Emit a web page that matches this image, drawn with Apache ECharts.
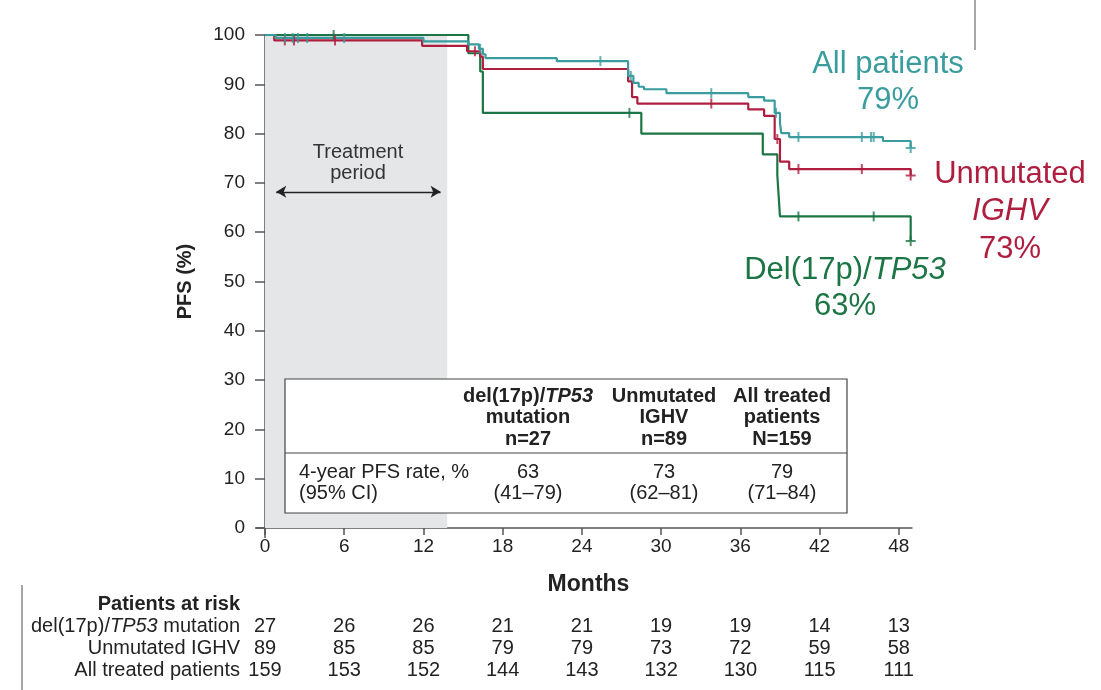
<!DOCTYPE html>
<html>
<head>
<meta charset="utf-8">
<script src="https://cdn.jsdelivr.net/npm/echarts@6/dist/echarts.min.js"></script>
<style>
  html, body { margin: 0; padding: 0; background: #fff; }
  #chart { width: 1101px; height: 690px; }
</style>
</head>
<body>
<div id="chart"></div>
<script>
// Kaplan-Meier step points: [month, PFS %]
const del17pSteps = [[0,100],[15.4,96.3],[16.3,92.6],[16.5,84.2],[28.5,80.0],[37.7,75.8],[38.8,71.6],[38.9,67.4],[39.0,63.2],[48.9,58.2]];
const ighvSteps = [[0,100],[0.7,98.9],[11.9,97.8],[15.3,96.7],[16.3,95.6],[16.5,93.1],[27.5,90.6],[27.8,87.4],[28.2,86.1],[36.6,84.9],[37.8,83.6],[38.6,78.9],[39.0,74.3],[39.7,72.8],[48.9,71.5]];
const allSteps = [[0,100],[0.8,99.4],[12.0,98.7],[15.4,98.1],[16.2,97.2],[16.5,96.1],[16.7,95.3],[22.1,94.7],[27.5,91.7],[27.9,90.3],[28.3,89.5],[28.7,89.0],[30.4,88.2],[36.6,87.4],[37.8,86.7],[38.6,84.2],[39.0,82.2],[39.1,80.1],[39.7,79.3],[46.8,78.5],[48.9,77.1]];

// Censoring times (months)
const del17pCensor = [5.2, 27.6, 40.4, 46.1, 48.9];
const ighvCensor = [1.5, 2.2, 5.3, 15.9, 33.8, 38.8, 40.4, 45.2, 48.9];
const allCensor = [1.5, 2.1, 2.5, 3.2, 6.0, 16.3, 25.4, 27.7, 33.8, 38.7, 40.4, 45.2, 45.9, 46.1, 48.9];

// Axis ticks
const monthTicks = [0, 6, 12, 18, 24, 30, 36, 42, 48];
const pfsTicks = [0, 10, 20, 30, 40, 50, 60, 70, 80, 90, 100];

// Patients at risk at each month tick
const riskDel17p = [27, 26, 26, 21, 21, 19, 19, 14, 13];
const riskIghv = [89, 85, 85, 79, 79, 73, 72, 59, 58];
const riskAll = [159, 153, 152, 144, 143, 132, 130, 115, 111];

// 4-year PFS table
const tableRate = ['63', '73', '79'];
const tableCI = ['(41\u201379)', '(62\u201381)', '(71\u201384)'];

const treatmentEnd = 13.8;

const C_ALL = '#3a9c9e';
const C_IGHV = '#b01e3f';
const C_DEL = '#1c7544';
const FONT = 'Liberation Sans, Arial, Helvetica, sans-serif';
const FS = 20;

function survivalAt(steps, t) {
  let v = steps[0][1];
  for (const p of steps) { if (p[0] <= t) v = p[1]; }
  return v;
}
const censorPoints = (steps, times) => times.map(t => [t, survivalAt(steps, t)]);

const tickSymbol = 'path://M0,0h2v10h-2z';
const plusSymbol = 'path://M4,0h2v4h4v2h-4v4h-2v-4h-4v-2h4z';

function censorSeries(name, steps, times, color) {
  return {
    type: 'scatter', name: name, z: 4,
    data: censorPoints(steps, times).map((p, i, arr) => ({
      value: p,
      symbol: i === arr.length - 1 ? plusSymbol : tickSymbol,
      symbolSize: i === arr.length - 1 ? [10, 10] : [2, 10]
    })),
    itemStyle: { color: color },
    silent: true
  };
}

function riskAxis(values, offset) {
  return {
    type: 'value', gridIndex: 0, position: 'bottom', offset: offset,
    min: 0, max: 49, interval: 6,
    axisLine: { show: false }, axisTick: { show: false }, splitLine: { show: false },
    axisLabel: {
      margin: 0, fontSize: FS, color: '#222', fontFamily: FONT,
      showMaxLabel: false,
      formatter: v => monthTicks.indexOf(v) >= 0 ? String(values[monthTicks.indexOf(v)]) : ''
    }
  };
}

const headerCols = [
  { x: 528, lines: ['{b|del(17p)/}{bi|TP53}', '{b|mutation}', '{b|n=27}'] },
  { x: 664, lines: ['{b|Unmutated}', '{b|IGHV}', '{b|n=89}'] },
  { x: 782, lines: ['{b|All treated}', '{b|patients}', '{b|N=159}'] }
];
const richStyles = {
  b: { fontSize: FS, fontWeight: 'bold', fontFamily: FONT, fill: '#222', color: '#222' },
  bi: { fontSize: FS, fontWeight: 'bold', fontStyle: 'italic', fontFamily: FONT, fill: '#222', color: '#222' },
  n: { fontSize: FS, fontFamily: FONT, fill: '#222', color: '#222' },
  it: { fontSize: FS, fontStyle: 'italic', fontFamily: FONT, fill: '#222', color: '#222' }
};

function txt(x, y, text, opts) {
  return {
    type: 'text', x: x, y: y, z: 100,
    style: Object.assign({
      text: text, fontSize: FS, fontFamily: FONT, fill: '#222',
      align: 'center', verticalAlign: 'middle'
    }, opts || {})
  };
}

const graphics = [];
// table box
graphics.push({ type: 'rect', z: 90, shape: { x: 285, y: 379, width: 562, height: 134 },
  style: { fill: '#fff', stroke: '#444', lineWidth: 1.2 } });
graphics.push({ type: 'line', z: 91, shape: { x1: 285, y1: 453, x2: 847, y2: 453 },
  style: { stroke: '#444', lineWidth: 1.2 } });
headerCols.forEach((col, ci) => {
  col.lines.forEach((ln, li) => {
    graphics.push(txt(col.x, 396 + li * 21.5, ln, { rich: richStyles }));
  });
  graphics.push(txt(col.x, 472, tableRate[ci]));
  graphics.push(txt(col.x, 493, tableCI[ci]));
});
graphics.push(txt(299, 472, '4-year PFS rate, %', { align: 'left' }));
graphics.push(txt(299, 493, '(95% CI)', { align: 'left' }));

// treatment period text
graphics.push(txt(358, 152, 'Treatment', { fill: '#333' }));
graphics.push(txt(358, 173, 'period', { fill: '#333' }));

// curve labels
const big = { fontSize: 31 };
graphics.push(txt(888, 64, 'All patients', Object.assign({ fill: C_ALL }, big)));
graphics.push(txt(888, 100, '79%', Object.assign({ fill: C_ALL }, big)));
graphics.push(txt(1010, 174, 'Unmutated', Object.assign({ fill: C_IGHV }, big)));
graphics.push(txt(1010, 211, 'IGHV', Object.assign({ fill: C_IGHV, fontStyle: 'italic' }, big)));
graphics.push(txt(1010, 249, '73%', Object.assign({ fill: C_IGHV }, big)));
graphics.push(txt(845, 270, '{a|Del(17p)/}{i|TP53}', { rich: {
  a: { fontSize: 31, fontFamily: FONT, fill: C_DEL, color: C_DEL },
  i: { fontSize: 31, fontFamily: FONT, fontStyle: 'italic', fill: C_DEL, color: C_DEL } } }));
graphics.push(txt(845, 306, '63%', Object.assign({ fill: C_DEL }, big)));

// risk table labels
graphics.push(txt(240, 604, 'Patients at risk', { align: 'right', fontWeight: 'bold' }));
graphics.push(txt(240, 626, '{n|del(17p)/}{it|TP53}{n| mutation}', { align: 'right', rich: richStyles }));
graphics.push(txt(240, 648, 'Unmutated IGHV', { align: 'right' }));
graphics.push(txt(240, 670, 'All treated patients', { align: 'right' }));

// axis extensions past the origin and frame lines
graphics.push({ type: 'line', z: 95, shape: { x1: 256, y1: 528, x2: 265, y2: 528 }, style: { stroke: '#555', lineWidth: 1.5 } });
graphics.push({ type: 'line', z: 95, shape: { x1: 265, y1: 528, x2: 265, y2: 538 }, style: { stroke: '#555', lineWidth: 1.5 } });
graphics.push({ type: 'line', z: 95, shape: { x1: 22, y1: 585, x2: 22, y2: 690 }, style: { stroke: '#888', lineWidth: 1.5 } });
graphics.push({ type: 'line', z: 95, shape: { x1: 975, y1: 0, x2: 975, y2: 50 }, style: { stroke: '#888', lineWidth: 1.5 } });

const lineStyleBase = { width: 2.2 };

const option = {
  animation: false,
  backgroundColor: '#fff',
  grid: { left: 265, right: 189, top: 35, bottom: 162, containLabel: false },
  xAxis: [
    {
      type: 'value', min: 0, max: 49, interval: 6,
      axisLine: { show: true, lineStyle: { color: '#555', width: 1.5 } },
      axisTick: { show: true, length: 7, lineStyle: { color: '#555', width: 1.5 } },
      splitLine: { show: false },
      axisLabel: { margin: 9, fontSize: 19, color: '#222', fontFamily: FONT, showMaxLabel: false,
        formatter: v => monthTicks.indexOf(v) >= 0 ? String(v) : '' },
      name: 'Months', nameLocation: 'middle', nameGap: 45,
      nameTextStyle: { fontSize: 23, fontWeight: 'bold', color: '#222', fontFamily: FONT }
    },
    riskAxis(riskDel17p, 88),
    riskAxis(riskIghv, 110),
    riskAxis(riskAll, 132)
  ],
  yAxis: {
    type: 'value', min: 0, max: 100, interval: 10,
    axisLine: { show: true, lineStyle: { color: '#555', width: 1.5 } },
    axisTick: { show: true, length: 10, lineStyle: { color: '#555', width: 1.5 } },
    splitLine: { show: false },
    axisLabel: { margin: 20, fontSize: 19, color: '#222', fontFamily: FONT,
      formatter: v => pfsTicks.indexOf(v) >= 0 ? String(v) : '' },
    name: 'PFS (%)', nameLocation: 'middle', nameGap: 70, nameRotate: 90,
    nameTextStyle: { fontSize: 20, fontWeight: 'bold', color: '#222', fontFamily: FONT }
  },
  graphic: graphics,
  series: [
    {
      type: 'line', name: 'Del(17p)/TP53', step: 'end', showSymbol: false, z: 3,
      data: del17pSteps, lineStyle: Object.assign({ color: C_DEL }, lineStyleBase),
      itemStyle: { color: C_DEL }, silent: true,
      markArea: {
        silent: true,
        itemStyle: { color: '#e5e6e8' },
        data: [[{ xAxis: 0, yAxis: 0 }, { xAxis: treatmentEnd, yAxis: 100 }]]
      },
      markLine: {
        silent: true, symbol: ['arrow', 'arrow'], symbolSize: [9, 10],
        label: { show: false },
        lineStyle: { color: '#222', width: 1.3, type: 'solid' },
        data: [[{ coord: [0.85, 68.2] }, { coord: [13.3, 68.2] }]]
      }
    },
    {
      type: 'line', name: 'Unmutated IGHV', step: 'end', showSymbol: false, z: 3,
      data: ighvSteps, lineStyle: Object.assign({ color: C_IGHV }, lineStyleBase),
      itemStyle: { color: C_IGHV }, silent: true
    },
    {
      type: 'line', name: 'All patients', step: 'end', showSymbol: false, z: 3,
      data: allSteps, lineStyle: Object.assign({ color: C_ALL }, lineStyleBase),
      itemStyle: { color: C_ALL }, silent: true
    },
    censorSeries('Del(17p)/TP53 censored', del17pSteps, del17pCensor, C_DEL),
    censorSeries('Unmutated IGHV censored', ighvSteps, ighvCensor, C_IGHV),
    censorSeries('All patients censored', allSteps, allCensor, C_ALL)
  ]
};

const chart = echarts.init(document.getElementById('chart'), null, { renderer: 'canvas' });
chart.setOption(option);
</script>
</body>
</html>
